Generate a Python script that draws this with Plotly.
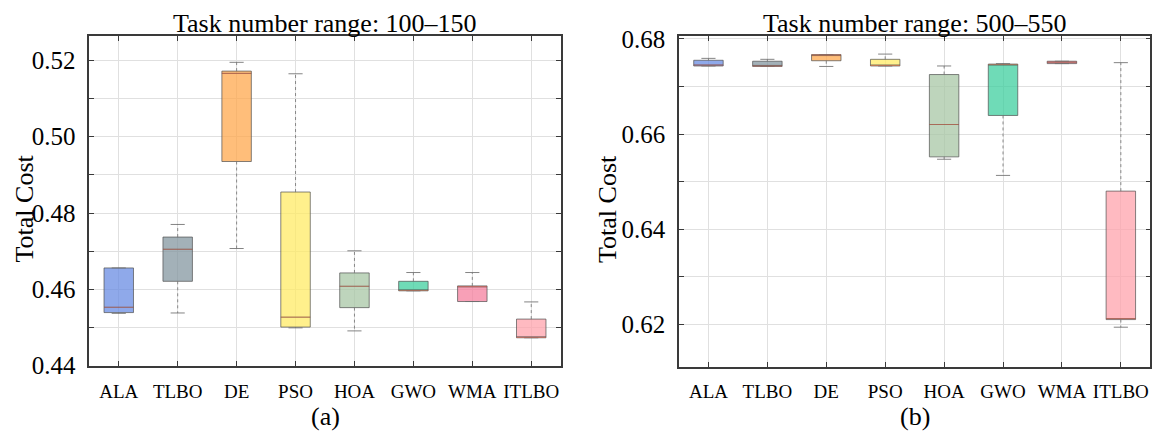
import plotly.graph_objects as go

# algorithm names on the x axis
categories = ["ALA", "TLBO", "DE", "PSO", "HOA", "GWO", "WMA", "ITLBO"]

# (a) task number range 100-150: whisker ends, quartiles, medians
a_low = [0.4537, 0.4538, 0.4707, 0.4499, 0.4491, 0.4596, 0.4568, 0.4473]
a_q1 = [0.4539, 0.4621, 0.4935, 0.4501, 0.4552, 0.4596, 0.4568, 0.4473]
a_med = [0.4553, 0.4705, 0.5166, 0.4527, 0.4608, 0.4597, 0.4607, 0.4474]
a_q3 = [0.4656, 0.4737, 0.5172, 0.4855, 0.4643, 0.4621, 0.4609, 0.4522]
a_high = [0.4656, 0.4770, 0.5195, 0.5165, 0.4701, 0.4644, 0.4644, 0.4567]

# (b) task number range 500-550
b_low = [0.6743, 0.6742, 0.6742, 0.6743, 0.6547, 0.6513, 0.6748, 0.6194]
b_q1 = [0.6743, 0.6742, 0.6754, 0.6743, 0.6552, 0.6639, 0.6748, 0.6210]
b_med = [0.6745, 0.6743, 0.6766, 0.6744, 0.6620, 0.6746, 0.6751, 0.6212]
b_q3 = [0.6755, 0.6753, 0.6767, 0.6757, 0.6725, 0.6747, 0.6753, 0.6480]
b_high = [0.6759, 0.6757, 0.6767, 0.6768, 0.6743, 0.6748, 0.6753, 0.6750]

colors = [
    "rgba(106,140,227,0.75)", "rgba(132,151,160,0.75)", "rgba(255,168,78,0.75)",
    "rgba(255,235,102,0.75)", "rgba(168,199,166,0.75)", "rgba(63,207,159,0.75)",
    "rgba(246,128,159,0.75)", "rgba(255,163,172,0.75)",
]

FONT = "Liberation Serif"
BOX_W = 0.5
CAP_W = 0.24

# the page body keeps an 8px margin, so the figure is 16px smaller than the window
PAD = 8
W, H = 1161 - 2 * PAD, 440 - 2 * PAD


def fx(px):
    return (px - PAD) / W


def fy(py):
    return 1 - (py - PAD) / H


fig = go.Figure()


def add_panel(low, q1, med, q3, high, xa, ya):
    for i, name in enumerate(categories):
        fig.add_trace(go.Box(
            x=[i], q1=[q1[i]], median=[med[i]], q3=[q3[i]],
            lowerfence=[q1[i]], upperfence=[q3[i]],
            width=BOX_W, whiskerwidth=0,
            fillcolor=colors[i],
            line=dict(color="rgba(80,80,80,0.7)", width=1),
            name=name, showlegend=False, hoverinfo="skip",
            xaxis=xa, yaxis=ya,
        ))
    # dotted whiskers
    wx, wy = [], []
    for i in range(len(categories)):
        wx += [i, i, None, i, i, None]
        wy += [q3[i], high[i], None, q1[i], low[i], None]
    fig.add_trace(go.Scatter(x=wx, y=wy, mode="lines",
                             line=dict(color="rgba(120,120,120,0.85)", width=1, dash="dot"),
                             showlegend=False, hoverinfo="skip", xaxis=xa, yaxis=ya))
    # caps
    cx, cy = [], []
    for i in range(len(categories)):
        cx += [i - CAP_W / 2, i + CAP_W / 2, None, i - CAP_W / 2, i + CAP_W / 2, None]
        cy += [high[i], high[i], None, low[i], low[i], None]
    fig.add_trace(go.Scatter(x=cx, y=cy, mode="lines",
                             line=dict(color="rgba(110,110,110,0.85)", width=1),
                             showlegend=False, hoverinfo="skip", xaxis=xa, yaxis=ya))
    # medians
    mx, my = [], []
    for i in range(len(categories)):
        mx += [i - BOX_W / 2, i + BOX_W / 2, None]
        my += [med[i], med[i], None]
    fig.add_trace(go.Scatter(x=mx, y=my, mode="lines",
                             line=dict(color="rgba(235,90,60,0.45)", width=1),
                             showlegend=False, hoverinfo="skip", xaxis=xa, yaxis=ya))


add_panel(a_low, a_q1, a_med, a_q3, a_high, "x", "y")
add_panel(b_low, b_q1, b_med, b_q3, b_high, "x2", "y2")

grid = "#e0e0e0"
frame = "#3a3a3a"

xcommon = dict(
    range=[-0.5, 7.5], tickvals=list(range(len(categories))), ticktext=categories,
    ticks="inside", ticklen=5, tickcolor=frame, showline=True, linecolor=frame,
    linewidth=1.5, mirror="ticks", showgrid=True, gridcolor=grid, gridwidth=1,
    zeroline=False, automargin=False,
    tickfont=dict(family=FONT, size=19, color="black"),
    ticklabelstandoff=7,
)
ycommon = dict(
    dtick=0.02, tickformat=".2f", ticks="inside", ticklen=5, tickcolor=frame,
    showline=True, linecolor=frame, linewidth=1.5, mirror="ticks",
    showgrid=True, gridcolor=grid, gridwidth=1, zeroline=False, automargin=False,
    tickfont=dict(family=FONT, size=25, color="black"), ticklabelstandoff=7,
    minor=dict(dtick=0.01, ticks="inside", ticklen=5, tickcolor=frame,
               showgrid=True, gridcolor=grid, gridwidth=1),
)

fig.update_layout(
    width=W, height=H,
    margin=dict(l=0, r=0, t=0, b=0, autoexpand=False),
    paper_bgcolor="white", plot_bgcolor="white",
    showlegend=False,
    xaxis=dict(domain=[fx(89.3), fx(560.7)], anchor="y", **xcommon),
    yaxis=dict(domain=[fy(366), fy(36)], anchor="x", range=[0.4399, 0.5264],
               tick0=0.44, **ycommon),
    xaxis2=dict(domain=[fx(679), fx(1150.3)], anchor="y2", **xcommon),
    yaxis2=dict(domain=[fy(366.7), fy(36)], anchor="x2", range=[0.6111, 0.6806],
                tick0=0.62, **ycommon),
)

# plot titles sit against the top edge
for t, x in [("Task number range: 100\u2013150", 325), ("Task number range: 500\u2013550", 914.6)]:
    fig.add_annotation(text=t, x=fx(x), y=1, xref="paper", yref="paper",
                       xanchor="center", yanchor="top", showarrow=False, borderpad=0,
                       font=dict(family=FONT, size=26, color="black"))

# panel labels
for t, x in [("(a)", 325), ("(b)", 914.6)]:
    fig.add_annotation(text=t, x=fx(x), y=fy(416), xref="paper", yref="paper",
                       xanchor="center", yanchor="middle", showarrow=False,
                       font=dict(family=FONT, size=26, color="black"))

# y axis titles
fig.add_annotation(text="Total Cost", x=0, y=fy(209), xref="paper", yref="paper",
                   xanchor="left", yanchor="middle", showarrow=False, borderpad=0,
                   textangle=-90, font=dict(family=FONT, size=26, color="black"))
fig.add_annotation(text="Total Cost", x=fx(607), y=fy(209), xref="paper", yref="paper",
                   xanchor="center", yanchor="middle", showarrow=False,
                   textangle=-90, font=dict(family=FONT, size=26, color="black"))

fig.write_html("out.html")
